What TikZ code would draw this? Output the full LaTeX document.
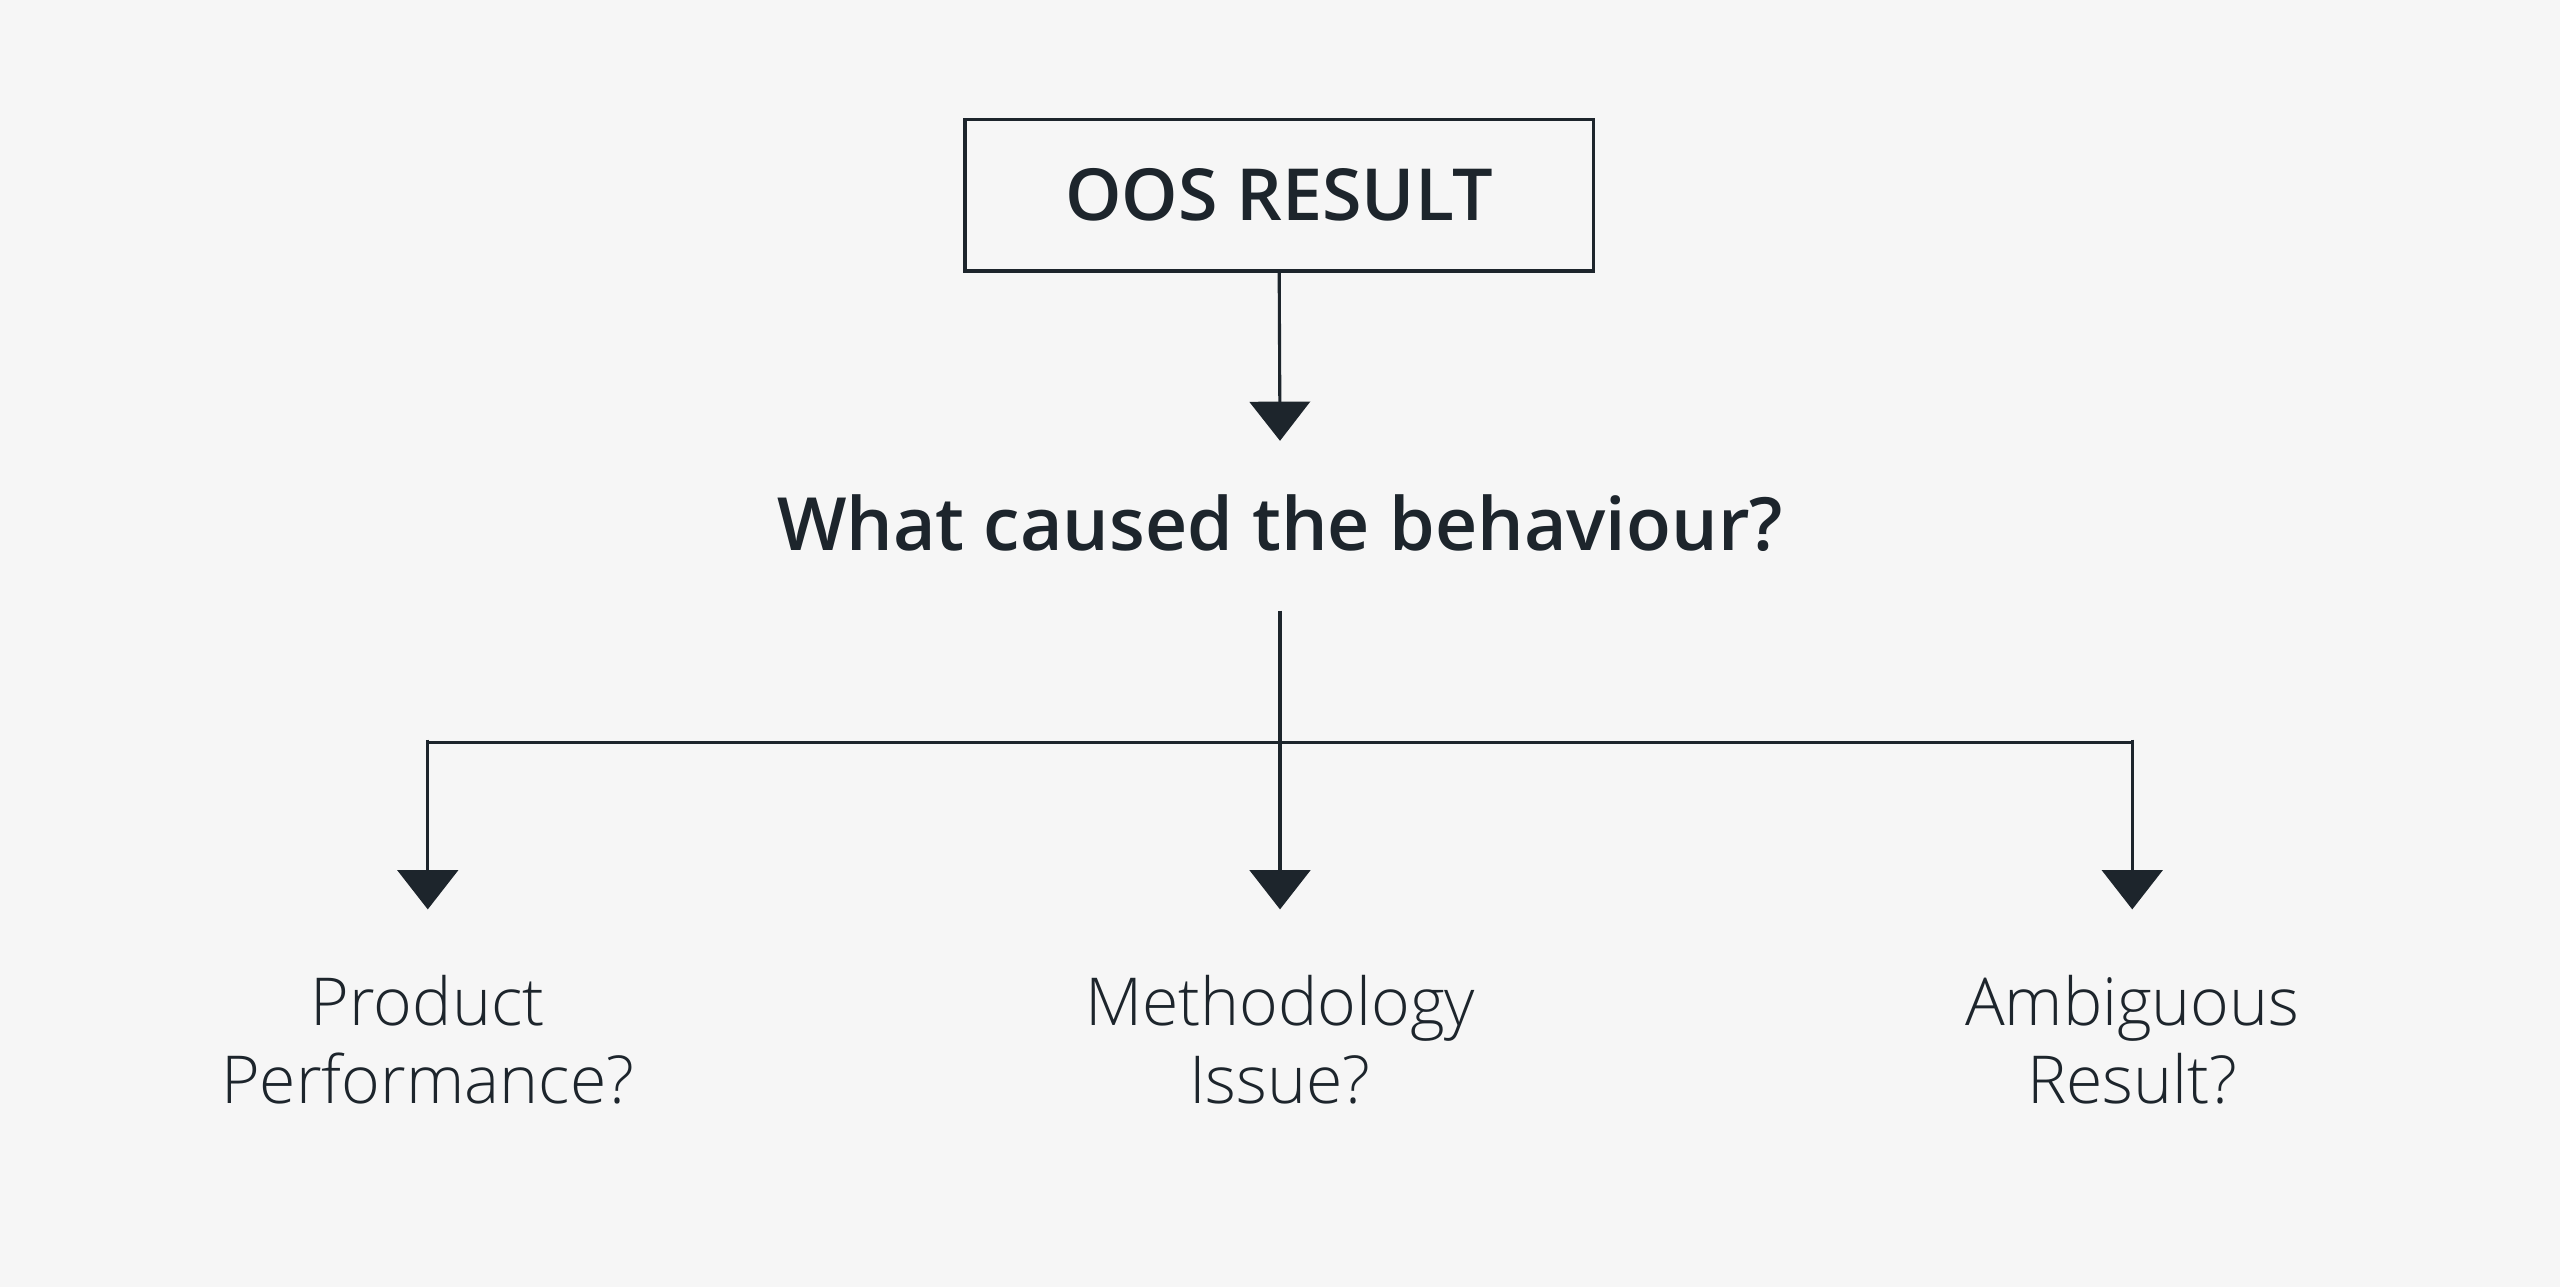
\documentclass[tikz,border=0pt]{standalone}
\usepackage{fontspec}
\usetikzlibrary{arrows.meta,positioning}
\setmainfont{Open Sans}
\IfFontExistsTF{Open Sans SemiBold}{\newfontfamily\headfont{Open Sans SemiBold}}{%
 \IfFontExistsTF{Open Sans Semibold}{\newfontfamily\headfont{Open Sans Semibold}}{%
  \IfFontExistsTF{OpenSans-SemiBold}{\newfontfamily\headfont{OpenSans-SemiBold}}{%
   \newfontfamily\headfont{Open Sans}[FakeBold=2.2]}}}
\IfFontExistsTF{Open Sans Light}{\newfontfamily\thinfont{Open Sans Light}}{\newcommand\thinfont{\normalfont}}
\definecolor{ink}{HTML}{1D252C}
\definecolor{paper}{HTML}{F6F6F6}
\tikzset{
  resultbox/.style={draw=ink,line width=2pt,minimum width=385pt,minimum height=93pt,inner sep=0pt,
    text=ink,font=\headfont\fontsize{44}{52}\selectfont},
  question/.style={text=ink,inner sep=0pt,font=\headfont\fontsize{45}{54}\selectfont},
  cause/.style={text=ink,inner sep=0pt,align=center,font=\thinfont\fontsize{40.5}{47.8}\selectfont},
  link/.style={draw=ink,line width=1.9pt},
  pointer/.style={link,-{Triangle[length=24pt,width=37pt]}}
}
\begin{document}
\begin{tikzpicture}[x=1pt,y=1pt]
 \fill[paper] (0,0) rectangle (1568,-788);
 \useasboundingbox (0,0) rectangle (1568,-788);
 % top box and question
 \node[resultbox] (oos) at (783.5,-119.5) {OOS RESULT};
 \node[question,anchor=base] (why) at (784,-337.3) {What caused the behaviour?};
 \coordinate (why-in) at (784,-270);
 \coordinate (why-out) at (784,-374);
 \draw[pointer] (oos.south) -- (why-in);
 % fork
 \coordinate (fork) at (784,-455);
 \coordinate (fork-l) at (262,-455);
 \coordinate (fork-r) at (1306,-455);
 \coordinate (drop-l) at (262,-453);
 \coordinate (drop-r) at (1306,-453);
 \coordinate (tip-l) at (262,-557);
 \coordinate (tip-m) at (784,-557);
 \coordinate (tip-r) at (1306,-557);
 \draw[link] (why-out) -- (fork);
 \draw[link] (fork-l) -- (fork-r);
 \draw[pointer] (drop-l) -- (tip-l);
 \draw[pointer] (fork) -- (tip-m);
 \draw[pointer] (drop-r) -- (tip-r);
 % answers (base = last line)
 \node[cause,anchor=base] (product) at (262,-675.6) {Product\\Performance?};
 \node[cause,anchor=base] (method) at (784,-675.6) {Methodology\\Issue?};
 \node[cause,anchor=base] (ambig) at (1306,-675.6) {Ambiguous\\Result?};
\end{tikzpicture}
\end{document}
